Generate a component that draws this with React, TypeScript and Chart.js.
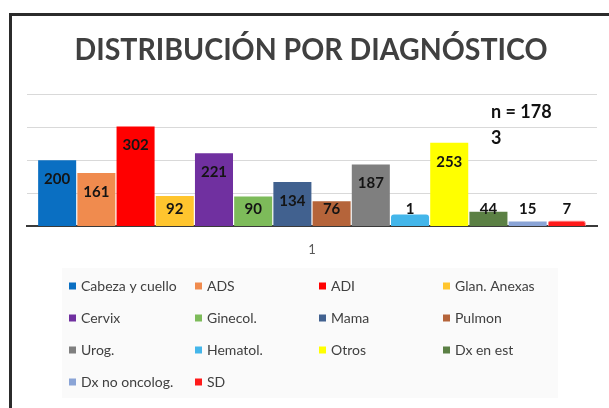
import React, { useEffect, useRef } from "react";
import { Chart, registerables } from "chart.js";

Chart.register(...registerables);

const categories = ["1"];
const seriesNames = [
  "Cabeza y cuello", "ADS", "ADI", "Glan. Anexas",
  "Cervix", "Ginecol.", "Mama", "Pulmon",
  "Urog.", "Hematol.", "Otros", "Dx en est",
  "Dx no oncolog.", "SD",
];
const seriesValues = [200, 161, 302, 92, 221, 90, 134, 76, 187, 1, 253, 44, 15, 7];
const seriesColors = [
  "#0A6FC2", "#F08B4E", "#FF0000", "#FFC52E",
  "#7030A0", "#7DBB5A", "#41618F", "#B5643A",
  "#7F7F7F", "#44B6EA", "#FFFF00", "#5B8044",
  "#8AA4D6", "#FF1A1A",
];
const minLengths = [0, 0, 0, 0, 0, 0, 0, 0, 0, 12, 0, 0, 0, 6];
const yMax = 400;
const yStep = 100;
const titleText = "DISTRIBUCIÓN POR DIAGNÓSTICO";
const nLines = ["n = 178", "3"];

const FONT = "Lato, 'Open Sans', sans-serif";

const overlayPlugin = {
  id: "overlay",
  afterDatasetsDraw(chart: any) {
    const ctx = chart.ctx;
    ctx.save();
    ctx.font = `bold 15px ${FONT}`;
    ctx.fillStyle = "#141414";
    ctx.textAlign = "center";
    ctx.textBaseline = "middle";
    chart.data.datasets.forEach((ds: any, i: number) => {
      const meta = chart.getDatasetMeta(i);
      const el = meta.data[0];
      if (!el) return;
      const y = Math.min(el.y + 19, el.base - 17);
      ctx.fillText(String(ds.data[0]), el.x, y);
    });
    ctx.restore();
  },
  afterDraw(chart: any) {
    const ctx = chart.ctx;
    ctx.save();
    ctx.font = `bold 31px ${FONT}`;
    ctx.fillStyle = "#404040";
    ctx.textAlign = "center";
    ctx.textBaseline = "alphabetic";
    ctx.fillText(titleText, 311, 60, 473);
    ctx.font = `bold 18px ${FONT}`;
    ctx.fillStyle = "#111";
    ctx.textAlign = "left";
    ctx.textBaseline = "middle";
    nLines.forEach((t, i) => ctx.fillText(t, 491, 112 + i * 26));
    ctx.fillStyle = "#fafafa";
    ctx.fillRect(62, 268, 496, 130);
    ctx.font = `14px ${FONT}`;
    ctx.textBaseline = "middle";
    const colX = [69, 195, 319, 443];
    chart.data.datasets.forEach((ds: any, i: number) => {
      const col = i % 4;
      const row = Math.floor(i / 4);
      const x = colX[col];
      const y = 286 + row * 32;
      ctx.fillStyle = ds.backgroundColor;
      ctx.fillRect(x, y - 3.5, 7, 7);
      ctx.fillStyle = "#404040";
      ctx.fillText(ds.label, x + 12, y + 0.5);
    });
    ctx.restore();
  },
};

export default function App() {
  const ref = useRef<HTMLCanvasElement>(null);
  useEffect(() => {
    if (!ref.current) return;
    const chart = new Chart(ref.current, {
      type: "bar",
      data: {
        labels: categories,
        datasets: seriesNames.map((name, i) => ({
          label: name,
          data: [seriesValues[i]],
          backgroundColor: seriesColors[i],
          borderColor: i === 13 ? "#FF8A8A" : seriesColors[i],
          borderWidth: i === 13 ? 1 : 0,
          borderRadius: i === 13 || i === 9 ? 3 : 0,
          borderSkipped: "bottom",
          categoryPercentage: 0.963,
          barPercentage: 0.97,
          minBarLength: minLengths[i],
        })),
      },
      options: {
        responsive: false,
        animation: false,
        layout: { padding: { left: 27, right: 12, top: 94, bottom: 142 } },
        plugins: {
          legend: { display: false },
          title: { display: false },
          tooltip: { enabled: false },
        },
        scales: {
          x: {
            grid: { display: false },
            border: { display: true, color: "#3a3a3a", width: 2 },
            ticks: { color: "#595959", font: { family: FONT, size: 13 }, padding: 8 },
          },
          y: {
            min: 0,
            max: yMax,
            ticks: { display: false, stepSize: yStep },
            grid: { color: "#d9d9d9", lineWidth: 1, drawTicks: false },
            border: { display: false },
          },
        },
      },
      plugins: [overlayPlugin],
    });
    return () => chart.destroy();
  }, []);
  return (
    <div style={{ position: "fixed", left: 0, top: 0, width: 609, height: 408, background: "#fff", overflow: "hidden" }}>
      <canvas ref={ref} width={609} height={408} style={{ position: "absolute", left: 0, top: 0 }} />
      <div
        style={{
          position: "absolute",
          left: 9,
          top: 13,
          width: 700,
          height: 500,
          border: "3px solid #2b2b2b",
          pointerEvents: "none",
        }}
      />
    </div>
  );
}
